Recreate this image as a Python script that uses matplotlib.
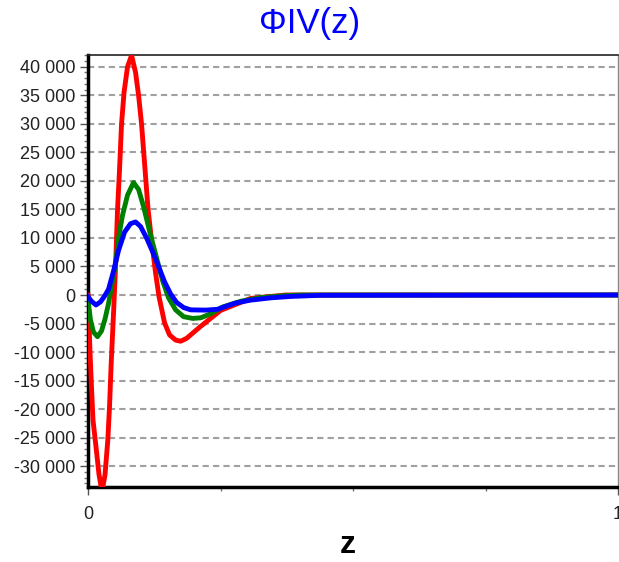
import matplotlib
matplotlib.use("Agg")
import matplotlib.pyplot as plt
from matplotlib.ticker import MultipleLocator, FixedLocator, FuncFormatter

plt.rcParams['font.family'] = ['Liberation Sans', 'DejaVu Sans']

# ---- data ----
z_red = [0.0, 0.0019, 0.0034, 0.0060, 0.0094, 0.0151, 0.0208, 0.0264, 0.0321, 0.0374,
         0.0406, 0.0438, 0.0482, 0.0520, 0.0557, 0.0595, 0.0633, 0.0680, 0.0746, 0.0822,
         0.0897, 0.0954, 0.1010, 0.1076, 0.1133, 0.1199, 0.1275, 0.1341, 0.1445, 0.1539,
         0.1653, 0.1747, 0.1860, 0.2125, 0.2502, 0.3069, 0.3730, 1.0]
v_red = [0, -4500, -9000, -14900, -21900, -26600, -31500, -34500, -31500, -25400,
         -19570, -11900, -3150, 5000, 14900, 22000, 30000, 35500, 40000, 42000,
         39000, 35000, 30000, 22000, 15000, 9600, 3850, -350, -4900, -7000,
         -7900, -8100, -7600, -5500, -2700, -600, 0, 0]

z_green = [0.0, 0.0047, 0.0104, 0.0179, 0.0255, 0.0321, 0.0387, 0.0444, 0.0520, 0.0576,
           0.0652, 0.0746, 0.0859, 0.0954, 0.1048, 0.1180, 0.1294, 0.1407, 0.1520, 0.1653,
           0.1804, 0.1974, 0.2125, 0.2314, 0.2540, 0.2880, 0.3258, 0.3730, 0.4013, 1.0]
v_green = [-800, -4400, -6500, -7300, -6300, -4200, -1500, 1500, 5500, 10000,
           14000, 17500, 19700, 18500, 15500, 10500, 6500, 2500, -500, -2600,
           -3800, -4100, -4000, -3300, -2100, -1100, -450, -100, 0, 0]

z_blue = [0.0, 0.0066, 0.0151, 0.0236, 0.0312, 0.0387, 0.0482, 0.0576, 0.0689, 0.0803,
          0.0897, 0.0992, 0.1105, 0.1218, 0.1331, 0.1445, 0.1558, 0.1671, 0.1804, 0.1936,
          0.2219, 0.2446, 0.2597, 0.2786, 0.3069, 0.3447, 0.3824, 0.4391, 1.0]
v_blue = [-300, -1100, -1750, -1200, -200, 1000, 4200, 7800, 11000, 12500,
          12800, 12000, 10000, 7600, 5000, 2300, 200, -1300, -2200, -2600,
          -2650, -2500, -2000, -1400, -900, -500, -250, -50, 0]

title = "ΦIV(z)"
xlabel = "z"
y_major = list(range(-30000, 40001, 5000))

# ---- figure ----
W, H = 619, 562
fig = plt.figure(figsize=(W / 100, H / 100), dpi=100)
ax = fig.add_axes([88 / W, 1 - 487 / H, (618 - 88) / W, (487 - 55) / H])

ax.plot(z_red, v_red, color='#ff0000', lw=3.5, solid_joinstyle='round', zorder=3)
ax.plot(z_green, v_green, color='#008000', lw=3.5, solid_joinstyle='round', zorder=4)
ax.plot(z_blue, v_blue, color='#0000ff', lw=3.5, solid_joinstyle='round', zorder=5)

ax.set_xlim(0, 1)
ax.set_ylim(-33640, 42050)

ax.yaxis.set_major_locator(FixedLocator(y_major))
ax.yaxis.set_minor_locator(MultipleLocator(1000))
ax.yaxis.set_major_formatter(FuncFormatter(lambda v, p: f"{int(v):,}".replace(",", " ")))
ax.xaxis.set_major_locator(FixedLocator([0, 1]))
ax.xaxis.set_minor_locator(FixedLocator([0.25, 0.5, 0.75]))
ax.xaxis.set_major_formatter(FuncFormatter(lambda v, p: f"{int(v)}"))

ax.tick_params(axis='both', which='major', direction='out', length=6, width=1,
               color='#555555', labelsize=13, labelcolor='#222222', pad=3)
ax.tick_params(axis='both', which='minor', direction='out', length=3, width=1,
               color='#777777')
ax.tick_params(axis='x', which='major', pad=8)

ax.grid(axis='y', which='major', color='#a0a0a0', lw=1.5, linestyle=(0, (3, 2)), zorder=1)
ax.set_axisbelow(True)

ax.spines['left'].set_linewidth(2.5)
ax.spines['bottom'].set_linewidth(2.5)
ax.spines['left'].set_color('black')
ax.spines['bottom'].set_color('black')
ax.spines['top'].set_linewidth(1.2)
ax.spines['top'].set_color('#222222')
ax.spines['right'].set_linewidth(1.0)
ax.spines['right'].set_color('#888888')

fig.text(0.5, 1 - 23 / H, title, color='#0000ff', fontsize=25, ha='center', va='center')
fig.text(348 / W, 1 - 545 / H, xlabel, color='black', fontsize=23, fontweight='bold',
         ha='center', va='center')

fig.savefig("out.png", dpi=100)
